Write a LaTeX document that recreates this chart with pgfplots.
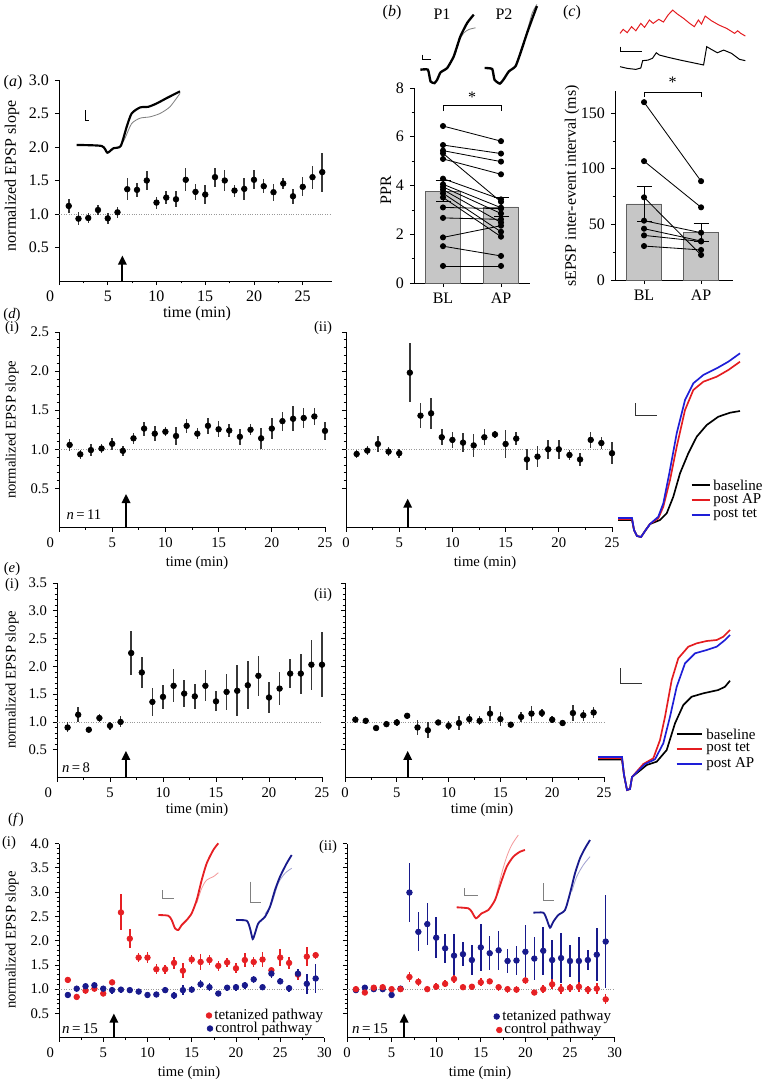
\documentclass[border=0pt]{standalone}
\usepackage{fontspec}
\setmainfont{Liberation Serif}
\usepackage{pgfplots}
\pgfplotsset{compat=1.18}
\usetikzlibrary{arrows.meta}
\definecolor{myred}{RGB}{230,32,36}
\definecolor{mynavy}{RGB}{24,26,140}
\definecolor{trred}{RGB}{228,28,32}
\definecolor{trblue}{RGB}{30,30,215}
\definecolor{ebar}{RGB}{55,55,55}
\newcommand{\fa}{\fontsize{9.6}{11}\selectfont}
\newcommand{\fb}{\fontsize{8.8}{10}\selectfont}
\newcommand{\fl}{\fontsize{9}{10}\selectfont}
\newcommand{\zl}{\makebox[0pt][r]{0\hspace{3pt}}}
\tikzset{arr/.style={line width=1.3pt, -{Triangle[length=5.5pt,width=5pt]}}}
\pgfplotsset{
  tp/.style={scale only axis, anchor=south west, axis x line*=bottom, axis y line*=left,
    axis line style={line width=0.5pt}, tick align=outside, major tick length=2.5pt,
    minor tick length=1.4pt, every tick/.style={black, line width=0.4pt}, clip=false,
    /pgf/number format/assume math mode=true},
  ydec/.style={yticklabel style={/pgf/number format/.cd, fixed, fixed zerofill, precision=1}},
  tc/.style={tp, ydec, xmin=0, ymin=0, minor x tick num=1, minor y tick num=4,
    tick label style={font=\fb}},
  err/.style={only marks, mark=*, mark size=1.7pt, black,
    error bars/.cd, y dir=both, y explicit, error mark=none,
    error bar style={line width=0.9pt, ebar}},
  errc/.style={only marks, mark=*, mark size=1.7pt, #1,
    error bars/.cd, y dir=both, y explicit, error mark=none,
    error bar style={line width=0.9pt, #1}},
  refl/.style={gray!80, densely dotted, line width=0.45pt},
  pair/.style={black, line width=0.5pt, mark=*, mark size=1.55pt},
}
\begin{document}
\begin{tikzpicture}
\useasboundingbox (0,0) rectangle (458.4pt,648pt);
% ---------------- (a)
\begin{axis}[tc, at={(35.4pt,479.4pt)}, width=163.8pt, height=120.6pt,
  xmax=28, ymax=3, xtick={0,5,...,25}, xticklabels={\zl,5,10,15,20,25},
  ytick={0.5,1,...,3}, minor y tick num=0, tick label style={font=\fa}]
\addplot[refl] coordinates {(0,1) (28,1)};
\addplot[err] table[x=x,y=y,y error=e] {
x y e
1 1.12 0.11
2 0.93 0.10
3 0.94 0.08
4 1.06 0.07
5 0.935 0.08
6 1.025 0.08
7 1.37 0.16
8 1.36 0.11
9 1.50 0.14
10 1.17 0.09
11 1.245 0.10
12 1.22 0.12
13 1.51 0.17
14 1.33 0.12
15 1.29 0.14
16 1.55 0.14
17 1.50 0.16
18 1.35 0.09
19 1.375 0.16
20 1.51 0.14
21 1.415 0.10
22 1.325 0.13
23 1.455 0.08
24 1.265 0.11
25 1.405 0.14
26 1.55 0.17
27 1.625 0.29
};
\addplot[gray, line width=0.5pt, smooth, tension=0.4] coordinates {(6.33,2.015) (6.77,2.13) (7.45,2.35) (8.31,2.43) (9.33,2.45) (10.36,2.50) (11.38,2.60) (12.41,2.80)};
\addplot[black, line width=1.3pt, smooth, tension=0.4] coordinates {(1.81,2.03) (4.38,2.015) (4.96,1.915) (5.57,1.98) (6.33,2.015) (6.94,2.30) (7.45,2.50) (8.31,2.59) (9.16,2.60) (10.02,2.65) (11.05,2.73) (12.41,2.83)};
\addplot[black, line width=0.6pt] coordinates {(2.67,2.55) (2.67,2.40) (3.11,2.40)};
\draw[arr] (axis cs:6.5,0) -- (axis cs:6.5,0.38);
\end{axis}
% ---------------- (b)
\begin{axis}[tp, at={(248.4pt,478.2pt)}, width=69.6pt, height=117pt,
  xmin=-0.5, xmax=1.5, ymin=0, ymax=8, xtick={0,1}, xticklabels={BL,AP},
  ytick={0,2,4,6,8}, minor y tick num=1, tick label style={font=\fa}]
\addplot[ybar, bar width=0.6, fill=gray!45, draw=gray!75!black, line width=0.5pt,
  error bars/.cd, y dir=both, y explicit, error bar style={line width=0.6pt, black},
  error mark options={rotate=90, mark size=4.5pt, line width=0.6pt, black}]
  coordinates {(0,3.77) +- (0,0.43) (1,3.12) +- (0,0.38)};
\addplot[pair] coordinates {(0,6.44) (1,5.82)};
\addplot[pair] coordinates {(0,5.66) (1,5.31)};
\addplot[pair] coordinates {(0,5.43) (1,4.98)};
\addplot[pair] coordinates {(0,5.09) (1,4.46)};
\addplot[pair] coordinates {(0,5.32) (1,3.33)};
\addplot[pair] coordinates {(0,4.28) (1,3.43)};
\addplot[pair] coordinates {(0,4.05) (1,3.09)};
\addplot[pair] coordinates {(0,3.94) (1,2.85)};
\addplot[pair] coordinates {(0,3.83) (1,2.48)};
\addplot[pair] coordinates {(0,3.68) (1,2.10)};
\addplot[pair] coordinates {(0,3.51) (1,1.90)};
\addplot[pair] coordinates {(0,3.10) (1,3.05)};
\addplot[pair] coordinates {(0,2.67) (1,2.61)};
\addplot[pair] coordinates {(0,1.87) (1,2.35)};
\addplot[pair] coordinates {(0,1.51) (1,1.11)};
\addplot[pair] coordinates {(0,0.70) (1,0.70)};
\addplot[black, line width=0.5pt] coordinates {(0,7.05) (0,7.27) (1,7.27) (1,7.05)};
\node[font=\fa] at (axis cs:0.5,7.62) {*};
\addplot[gray, line width=0.5pt, smooth, tension=0.4] coordinates {(0.186,9.30) (0.273,9.92) (0.359,10.26) (0.445,10.40) (0.56,10.47)};
\addplot[black, line width=1.4pt, smooth, tension=0.3] coordinates {(-0.39,8.75) (-0.26,8.75) (-0.215,8.27) (-0.147,8.20) (-0.10,8.34) (-0.043,8.64) (0.072,8.82) (0.186,9.30) (0.30,10.12) (0.417,10.67) (0.53,11.01)};
\addplot[gray, line width=0.5pt, smooth, tension=0.4] coordinates {(1.336,9.44) (1.45,10.33) (1.54,11.09) (1.62,11.43)};
\addplot[black, line width=1.4pt, smooth, tension=0.3] coordinates {(0.716,8.82) (0.848,8.78) (0.888,8.34) (0.98,8.18) (1.05,8.37) (1.135,8.68) (1.25,8.89) (1.336,9.44) (1.45,10.26) (1.555,10.95) (1.62,11.36)};
\addplot[black, line width=0.6pt] coordinates {(-0.348,9.37) (-0.348,9.16) (-0.215,9.16)};
\end{axis}
% ---------------- (c)
\begin{axis}[tp, at={(369pt,480pt)}, width=70.8pt, height=113.5pt,
  xmin=-0.509, xmax=1.56, ymin=0, ymax=170, xtick={0,1}, xticklabels={BL,AP},
  ytick={0,50,100,150}, minor y tick num=1, tick label style={font=\fa}]
\addplot[ybar, bar width=0.614, fill=gray!45, draw=gray!75!black, line width=0.5pt,
  error bars/.cd, y dir=both, y explicit, error bar style={line width=0.6pt, black},
  error mark options={rotate=90, mark size=4.5pt, line width=0.6pt, black}]
  coordinates {(0,68.3) +- (0,15.7) (1,42.8) +- (0,8)};
\addplot[pair] coordinates {(0,159.8) (1,88.8)};
\addplot[pair] coordinates {(0,106.8) (1,65.3)};
\addplot[pair] coordinates {(0,74.3) (1,22.5)};
\addplot[pair] coordinates {(0,53.3) (1,42.5)};
\addplot[pair] coordinates {(0,46.1) (1,35.0)};
\addplot[pair] coordinates {(0,40.1) (1,34.6)};
\addplot[pair] coordinates {(0,30.5) (1,27.0)};
\addplot[black, line width=0.5pt] coordinates {(0,164.5) (0,169) (1,169) (1,164.5)};
\node[font=\fa] at (axis cs:0.5,178) {*};
\addplot[trred, line width=0.6pt] coordinates {(-0.421,221.65) (-0.365,225.2) (-0.295,222.26) (-0.219,227.65) (-0.144,223.99) (-0.057,230.59) (0.009,227.04) (0.095,233.64) (0.160,230.59) (0.258,234.25) (0.340,231.81) (0.421,238.1) (0.502,242.57) (0.584,239.02) (0.692,235.16) (0.801,230.59) (0.882,227.65) (0.953,233.64) (1.007,229.98) (1.072,237.19) (1.180,233.03) (1.316,229.07) (1.448,226.12) (1.588,221.65) (1.642,223.99) (1.695,221.65) (1.777,219.22)};
\addplot[black, line width=0.6pt] coordinates {(-0.421,191.70) (-0.295,190.18) (-0.144,189.27) (-0.057,190.49) (-0.024,197.09) (0.068,197.59) (0.148,199.22) (0.215,204.19) (0.269,202.16) (0.421,200.13) (0.638,197.59) (0.855,195.26) (1.044,193.23) (1.099,209.68) (1.180,207.24) (1.287,204.19) (1.395,206.63) (1.534,203.68) (1.674,198.3) (1.777,197.09)};
\addplot[black, line width=0.6pt] coordinates {(-0.421,209.68) (-0.421,205.1) (-0.040,205.1)};
\end{axis}
% ---------------- (d)(i)
\begin{axis}[tc, at={(35.4pt,331.5pt)}, width=159.6pt, height=117.3pt,
  xmax=25, ymax=2.5, xtick={0,5,...,25}, xticklabels={\zl,5,10,15,20,25}, ytick={0.5,1,...,2.5}]
\addplot[refl] coordinates {(0,1) (25,1)};
\addplot[err] table[x=x,y=y,y error=e] {
x y e
1 1.056 0.08
2 0.936 0.06
3 0.99 0.08
4 1.01 0.06
5 1.07 0.08
6 0.98 0.06
7 1.14 0.07
8 1.265 0.09
9 1.20 0.10
10 1.225 0.06
11 1.17 0.12
12 1.30 0.09
13 1.20 0.07
14 1.30 0.10
15 1.256 0.10
16 1.24 0.08
17 1.16 0.10
18 1.25 0.07
19 1.14 0.13
20 1.265 0.13
21 1.36 0.12
22 1.39 0.16
23 1.40 0.13
24 1.42 0.11
25 1.235 0.12
};
\draw[arr] (axis cs:6.3,0) -- (axis cs:6.3,0.43);
\end{axis}
% ---------------- (d)(ii)
\begin{axis}[tc, at={(207.6pt,331.5pt)}, width=159.6pt, height=117.3pt,
  xmax=25, ymax=2.5, xtick={0,5,...,25}, ytick={0.5,1,...,2.5}, yticklabels={}]
\addplot[refl] coordinates {(0,1) (25,1)};
\addplot[err] table[x=x,y=y,y error=e] {
x y e
1 0.94 0.05
2 0.983 0.06
3 1.068 0.10
4 0.97 0.06
5 0.95 0.06
6 1.98 0.38
7 1.43 0.16
8 1.46 0.20
9 1.154 0.10
10 1.12 0.10
11 1.085 0.12
12 1.05 0.15
13 1.154 0.10
14 1.19 0.04
15 1.068 0.18
16 1.137 0.08
17 0.87 0.13
18 0.906 0.13
19 1.00 0.12
20 1.00 0.12
21 0.927 0.07
22 0.87 0.08
23 1.12 0.10
24 1.08 0.08
25 0.95 0.14
};
\draw[arr] (axis cs:5.8,0) -- (axis cs:5.8,0.37);
\end{axis}
% ---------------- (e)(i)
\begin{axis}[tc, at={(34.2pt,181.5pt)}, width=159pt, height=116.7pt,
  xmax=25, ymax=3.5, xtick={0,5,...,25}, xticklabels={\zl,5,10,15,20,25}, ytick={0.5,1,...,3.5}]
\addplot[refl] coordinates {(0,1) (25,1)};
\addplot[err] table[x=x,y=y,y error=e] {
x y e
1 0.90 0.09
2 1.13 0.13
3 0.86 0.04
4 1.07 0.08
5 0.93 0.07
6 1.00 0.10
7 2.24 0.40
8 1.89 0.28
9 1.36 0.25
10 1.45 0.22
11 1.65 0.30
12 1.51 0.25
13 1.46 0.23
14 1.65 0.28
15 1.37 0.18
16 1.54 0.32
17 1.56 0.46
18 1.66 0.43
19 1.83 0.36
20 1.44 0.28
21 1.60 0.30
22 1.87 0.26
23 1.87 0.36
24 2.03 0.45
25 2.03 0.58
};
\draw[arr] (axis cs:6.5,0) -- (axis cs:6.5,0.48);
\end{axis}
% ---------------- (e)(ii)
\begin{axis}[tc, at={(207pt,181.5pt)}, width=155.4pt, height=116.7pt,
  xmax=25, ymax=3.5, xtick={0,5,...,25}, ytick={0.5,1,...,3.5}, yticklabels={}]
\addplot[refl] coordinates {(0,1) (25,1)};
\addplot[err] table[x=x,y=y,y error=e] {
x y e
1 1.04 0.06
2 1.02 0.03
3 0.89 0.04
4 0.96 0.06
5 0.99 0.06
6 1.11 0.03
7 0.90 0.14
8 0.85 0.14
9 0.99 0.05
10 0.93 0.08
11 0.98 0.13
12 1.05 0.09
13 1.02 0.08
14 1.15 0.13
15 1.05 0.13
16 0.95 0.04
17 1.09 0.09
18 1.15 0.14
19 1.16 0.08
20 1.04 0.06
21 0.98 0.05
22 1.16 0.14
23 1.12 0.10
24 1.17 0.10
};
\draw[arr] (axis cs:6.05,0) -- (axis cs:6.05,0.48);
\end{axis}
% ---------------- (f)(i)
\begin{axis}[tc, at={(35.4pt,25.38pt)}, width=159.3pt, height=116.52pt,
  xmax=30, ymax=4, xtick={0,5,...,30}, xticklabels={\zl,5,10,15,20,25,30}, ytick={0.5,1,...,4}]
\addplot[refl] coordinates {(0,1) (30,1)};
\addplot[errc=myred] table[x=x,y=y,y error=e] {
x y e
1 1.19 0.06
2 0.84 0.05
3 0.97 0.06
4 1.01 0.06
5 0.91 0.05
6 1.14 0.04
7 2.58 0.37
8 2.04 0.20
9 1.65 0.10
10 1.65 0.12
11 1.41 0.10
12 1.41 0.09
13 1.54 0.12
14 1.38 0.15
15 1.61 0.10
16 1.56 0.17
17 1.60 0.10
18 1.48 0.10
19 1.55 0.10
20 1.43 0.10
21 1.60 0.15
22 1.56 0.10
23 1.61 0.16
24 1.39 0.05
25 1.65 0.17
26 1.54 0.12
27 1.30 0.12
28 1.67 0.20
29 1.70 0.07
};
\addplot[errc=mynavy] table[x=x,y=y,y error=e] {
x y e
1 0.88 0.07
2 1.01 0.06
3 1.06 0.05
4 1.08 0.05
5 1.01 0.06
6 0.98 0.07
7 0.99 0.06
8 0.98 0.05
9 0.95 0.06
10 0.88 0.06
11 0.89 0.05
12 0.98 0.06
13 0.87 0.07
14 0.98 0.10
15 0.99 0.07
16 1.10 0.08
17 1.04 0.08
18 0.91 0.05
19 1.03 0.06
20 1.04 0.07
21 1.08 0.07
22 1.20 0.07
23 1.04 0.06
24 1.32 0.10
25 1.16 0.06
26 1.02 0.07
27 1.32 0.10
28 1.11 0.20
29 1.22 0.30
};
\draw[arr] (axis cs:6.2,0) -- (axis cs:6.2,0.5);
\end{axis}
% ---------------- (f)(ii)
\begin{axis}[tc, at={(208.2pt,25.38pt)}, width=160.56pt, height=116.52pt,
  xmax=30, ymax=4, xtick={0,5,...,30}, ytick={0.5,1,...,4}, yticklabels={}]
\addplot[refl] coordinates {(0,1) (30,1)};
\addplot[errc=mynavy] table[x=x,y=y,y error=e] {
x y e
1 0.98 0.05
2 1.03 0.05
3 1.00 0.05
4 1.00 0.05
5 0.88 0.05
6 1.01 0.05
7 2.99 0.60
8 2.18 0.40
9 2.34 0.43
10 2.06 0.42
11 1.84 0.30
12 1.69 0.45
13 1.72 0.25
14 1.60 0.30
15 1.86 0.48
16 1.74 0.35
17 1.80 0.40
18 1.58 0.24
19 1.59 0.30
20 1.77 0.55
21 1.63 0.45
22 1.79 0.50
23 1.60 0.42
24 1.64 0.52
25 1.58 0.33
26 1.58 0.50
27 1.60 0.20
28 1.71 0.55
29 1.98 0.95
};
\addplot[errc=myred] table[x=x,y=y,y error=e] {
x y e
1 1.00 0.05
2 0.93 0.04
3 1.03 0.05
4 1.04 0.05
5 1.00 0.05
6 1.00 0.05
7 1.25 0.10
8 1.15 0.08
9 1.00 0.06
10 1.05 0.07
11 1.11 0.07
12 1.21 0.08
13 1.04 0.05
14 1.05 0.06
15 1.14 0.08
16 1.16 0.05
17 1.04 0.07
18 1.00 0.07
19 0.99 0.07
20 1.18 0.08
21 0.93 0.06
22 1.00 0.08
23 1.10 0.10
24 1.00 0.10
25 1.03 0.08
26 1.05 0.10
27 0.99 0.08
28 1.01 0.12
29 0.79 0.10
};
\draw[arr] (axis cs:6.4,0) -- (axis cs:6.4,0.5);
\end{axis}
% ---------------- overlay in image pixels
\begin{axis}[scale only axis, anchor=south west, at={(0pt,0pt)}, width=458.4pt, height=648pt,
  xmin=0, xmax=764, ymin=0, ymax=1080, y dir=reverse, hide axis, clip=false]
% (d) traces
\addplot[black, line width=1pt] coordinates {(618,520) (632,520) (634,530) (637,536) (641,537) (645,531) (650,524) (660,520) (666.7,513.3) (673.3,496.7) (680,473.3) (688.3,453.3) (696.7,436.7) (706.7,425) (718.3,416.7) (730,412.7) (740,411)};
\addplot[trred, line width=1pt] coordinates {(618,519) (632,519) (634,530) (637,536) (641,537) (645,531) (650,524) (658.3,518.3) (663.3,506.7) (670,480) (676.7,446.7) (685,410) (693.3,390) (703.3,381.7) (716.7,376.7) (728.3,370) (740,361.7)};
\addplot[trblue, line width=1pt] coordinates {(618,518) (632,518) (634,530) (637,536) (641,537) (645,531) (650,524) (658.3,516.7) (663.3,503.3) (669.3,473.3) (676.7,433.3) (685,400) (693.3,383.3) (703.3,375) (716.7,368.3) (728.3,361.7) (740,353.3)};
\addplot[black!80, line width=0.6pt] coordinates {(635,403.3) (635,415) (656.7,415)};
\addplot[black, line width=1.1pt] coordinates {(691.7,485) (710,485)};
\addplot[trred, line width=1.1pt] coordinates {(691.7,500) (710,500)};
\addplot[trblue, line width=1.1pt] coordinates {(691.7,515) (710,515)};
\node[font=\fl, anchor=west, inner sep=0pt] at (axis cs:713,485) {baseline};
\node[font=\fl, anchor=west, inner sep=0pt] at (axis cs:713,500) {post AP};
\node[font=\fl, anchor=west, inner sep=0pt] at (axis cs:713,515) {post tet};
% (e) traces
\addplot[black, line width=1pt] coordinates {(598,759.5) (622,759.5) (624,775) (627,790) (630,789) (632,777) (646.7,765) (656.7,761.7) (666.7,750) (675,723.3) (683.3,705) (691.7,696.7) (703.3,693.3) (718.3,690) (725,686.7) (730,680.7)};
\addplot[trred, line width=1pt] coordinates {(598,758) (622,758) (624,775) (627,790) (630,789) (632,777) (643.3,764) (653.3,758.3) (660,740) (665,716.7) (671.7,680) (678.3,658.3) (688.3,646.7) (696.7,643.3) (706.7,641) (716.7,640) (723.3,636.7) (730,630)};
\addplot[trblue, line width=1pt] coordinates {(598,757) (622,757) (624,775) (627,790) (630,789) (632,777) (645,764) (655,759.3) (663.3,743.3) (670,716.7) (676.7,686.7) (685,663.3) (695,653.3) (706.7,650) (716.7,646.7) (725,640) (730,635)};
\addplot[black!80, line width=0.6pt] coordinates {(620,668.3) (620,683.3) (641.7,683.3)};
\addplot[black, line width=1.1pt] coordinates {(676.7,734) (701.7,734)};
\addplot[trred, line width=1.1pt] coordinates {(676.7,749) (701.7,749)};
\addplot[trblue, line width=1.1pt] coordinates {(676.7,764) (701.7,764)};
\node[font=\fl, anchor=west, inner sep=0pt] at (axis cs:706,734) {baseline};
\node[font=\fl, anchor=west, inner sep=0pt] at (axis cs:706,749) {post tet};
\node[font=\fl, anchor=west, inner sep=0pt] at (axis cs:706,764) {post AP};
% (f)(i) insets
\addplot[myred!45, line width=0.5pt, smooth] coordinates {(196.7,903.3) (201.7,888.3) (206.7,880) (213.3,876.7) (218.3,872.7)};
\addplot[myred, line width=1.1pt, smooth, tension=0.4] coordinates {(158.3,915) (168.3,915.7) (171.7,920) (175,928.3) (178.3,930) (181.7,925) (186.7,920) (191.7,913.3) (196.7,900) (201.7,880) (206.7,863.3) (213.3,850) (218.3,843.3)};
\addplot[gray, line width=0.5pt] coordinates {(162.3,890) (162.3,898.3) (174,898.3)};
\addplot[mynavy!40, line width=0.5pt, smooth] coordinates {(265,914) (271.7,903.3) (278.3,883.3) (285,873.3) (291.7,868.3)};
\addplot[mynavy, line width=1.1pt, smooth, tension=0.4] coordinates {(236,920) (246.7,920.7) (250,928.3) (252.7,939) (255,933.3) (258.3,923.3) (265,916.7) (270,906.7) (275,890) (280,876.7) (286.7,863.3) (291.7,855)};
\addplot[gray, line width=0.5pt] coordinates {(250,881.7) (250,902.7) (261,902.7)};
% (f)(ii) insets
\addplot[myred!45, line width=0.5pt, smooth] coordinates {(496.7,893.3) (501.7,873.3) (506.7,856.7) (511.7,845) (518.3,835)};
\addplot[myred, line width=1.1pt, smooth, tension=0.4] coordinates {(456.7,907.3) (468.3,908.3) (471.7,911.7) (476,918.3) (481.7,913.3) (488.3,910) (495,900) (500.7,883.3) (506.7,866.7) (513.3,856.7) (520,851.7) (525,850)};
\addplot[gray, line width=0.5pt] coordinates {(464.3,888.3) (464.3,895) (478.3,895)};
\addplot[mynavy!40, line width=0.5pt, smooth] coordinates {(571.7,891.7) (576.7,876.7) (583.3,865) (590,856.7)};
\addplot[mynavy, line width=1.1pt, smooth, tension=0.4] coordinates {(533.3,912.7) (543.3,912.7) (546.7,919.3) (550,927.7) (553.3,921.7) (558.3,915) (565,910) (570,893.3) (575,873.3) (580,858.3) (585,848.3) (590,840)};
\addplot[gray, line width=0.5pt] coordinates {(543.3,883.3) (543.3,900) (554.3,900)};
% (f) legends
\addplot[only marks, mark=*, mark size=1.7pt, myred] coordinates {(209,1015.5) (499.3,1030)};
\addplot[only marks, mark=*, mark size=1.7pt, mynavy] coordinates {(210,1028.5) (496.7,1016.5)};
\node[font=\fl, anchor=west, inner sep=0pt] at (axis cs:214,1015.5) {tetanized pathway};
\node[font=\fl, anchor=west, inner sep=0pt] at (axis cs:215,1028.5) {control pathway};
\node[font=\fl, anchor=west, inner sep=0pt] at (axis cs:502,1016.5) {tetanized pathway};
\node[font=\fl, anchor=west, inner sep=0pt] at (axis cs:504,1030) {control pathway};
% panel labels
\node[font=\fa] at (axis cs:13,83) {(\textit{a})};
\node[font=\fa] at (axis cs:392,13) {(\textit{b})};
\node[font=\fa] at (axis cs:442,14) {P1};
\node[font=\fa] at (axis cs:504,14) {P2};
\node[font=\fa] at (axis cs:572,13) {(\textit{c})};
\node[font=\fb] at (axis cs:12,315) {(\textit{d})};
\node[font=\fb] at (axis cs:12,328) {(i)};
\node[font=\fb] at (axis cs:323,328) {(ii)};
\node[font=\fb] at (axis cs:12,569) {(\textit{e})};
\node[font=\fb] at (axis cs:12,585) {(i)};
\node[font=\fb] at (axis cs:323,595) {(ii)};
\node[font=\fb] at (axis cs:16,820) {(\textit{f})};
\node[font=\fb] at (axis cs:9,843) {(i)};
\node[font=\fb] at (axis cs:328,847) {(ii)};
% n labels
\node[font=\fb] at (axis cs:84,515) {\textit{n}\,=\,11};
\node[font=\fb] at (axis cs:76,768) {\textit{n}\,=\,8};
\node[font=\fl] at (axis cs:80,1029) {\textit{n}\,=\,15};
\node[font=\fl] at (axis cs:370,1029) {\textit{n}\,=\,15};
% axis titles
\node[font=\fa, rotate=90] at (axis cs:12,176) {normalized EPSP slope};
\node[font=\fb, rotate=90] at (axis cs:12,430) {normalized EPSP slope};
\node[font=\fb, rotate=90] at (axis cs:12,680) {normalized EPSP slope};
\node[font=\fb, rotate=90] at (axis cs:12,940) {normalized EPSP slope};
\node[font=\fa, rotate=90] at (axis cs:386,190) {PPR};
\node[font=\fa, rotate=90] at (axis cs:572,186) {sEPSP inter-event interval (ms)};
\node[font=\fa] at (axis cs:197,314) {time (min)};
\node[font=\fb] at (axis cs:197,563) {time (min)};
\node[font=\fb] at (axis cs:485,563) {time (min)};
\node[font=\fb] at (axis cs:197,810) {time (min)};
\node[font=\fb] at (axis cs:482,810) {time (min)};
\node[font=\fb] at (axis cs:189,1073) {time (min)};
\node[font=\fb] at (axis cs:480,1073) {time (min)};
\end{axis}
\end{tikzpicture}
\end{document}
